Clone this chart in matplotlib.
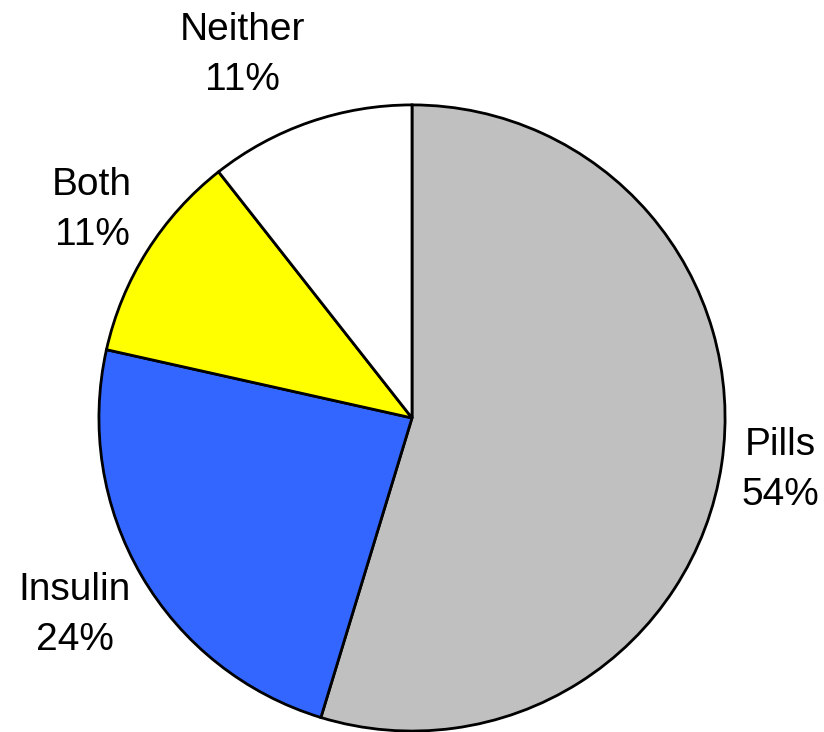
import matplotlib.pyplot as plt

# Data (shares; labels show rounded values)
labels = ["Pills", "Insulin", "Both", "Neither"]
shares = [54.7, 23.8, 10.9, 10.6]
shown_pct = [54, 24, 11, 11]
colors = ["#c0c0c0", "#3366ff", "#ffff00", "#ffffff"]

plt.rcParams["font.family"] = ["Liberation Sans", "DejaVu Sans"]

fig = plt.figure(figsize=(8.24, 7.32), dpi=100)
ax = fig.add_axes([0, 0, 1, 1])

texts = [f"{l}\n{p}%" for l, p in zip(labels, shown_pct)]
wedges, lbls = ax.pie(shares, labels=texts, colors=colors, startangle=90,
                      counterclock=False, labeldistance=1.23,
                      wedgeprops=dict(edgecolor="black", linewidth=2),
                      textprops=dict(fontsize=28))

# label placement as in the reference (in pie radius units)
label_xy = [(1.176, -0.166), (-1.077, -0.629), (-1.022, 0.665), (-0.543, 1.160)]
for t, xy in zip(lbls, label_xy):
    t.set_position(xy)
    t.set_ha("center")
    t.set_va("center")
    t.set_linespacing(1.5)

# position the pie like the reference (center ~ (412, 418) px, radius ~313 px)
ax.set_xlim(-1.316, 1.316)
ax.set_ylim(-1.003, 1.335)
ax.set_aspect("equal")
ax.axis("off")

fig.savefig("out.png", dpi=100)
